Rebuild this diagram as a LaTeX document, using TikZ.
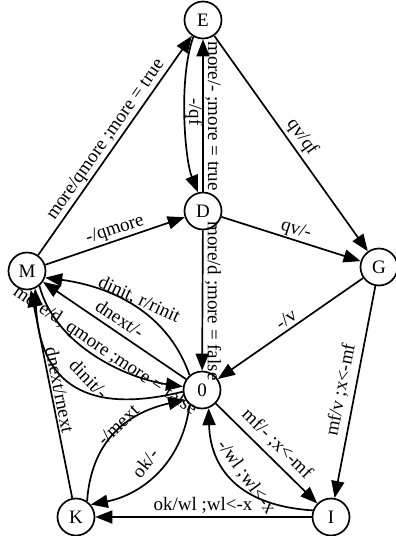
\documentclass[tikz,border=0pt]{standalone}
\usepackage{fontspec}
\setmainfont{Liberation Serif}
\usetikzlibrary{arrows.meta}
\begin{document}
\begin{tikzpicture}[x=1pt,y=-1pt,
  state/.style={circle,draw,line width=1.7pt,minimum size=37pt,inner sep=0pt,font=\fontsize{19}{22}\selectfont},
  edge/.style={line width=1.7pt,-{Triangle[length=17pt,width=13pt]}},
  lbl/.style={inner sep=0pt,font=\fontsize{19}{22}\selectfont}]
\useasboundingbox (0,0) rectangle (396,536);
% states
\node[state] (E) at (203,20) {E};
\node[state] (D) at (203,211) {D};
\node[state] (G) at (379,267) {G};
\node[state] (M) at (27,271) {M};
\node[state] (Z) at (202,390) {0};
\node[state] (K) at (76,517) {K};
\node[state] (I) at (331,517) {I};
% edges
\draw[edge] (M) -- (E);
\draw[edge] (M) -- (D);
\draw[edge] (E.240) .. controls (178,80) and (185,160) .. (D.105);
\draw[edge] (D) -- (E);
\draw[edge] (E) -- (G);
\draw[edge] (D) -- (G);
\draw[edge] (D) -- (Z);
\draw[edge] (G) -- (Z);
\draw[edge] (G) -- (I);
\draw[edge] (Z.130) .. controls (165,305) and (100,285) .. (M.-20);
\draw[edge] (Z) -- (M);
\draw[edge] (M.-50) .. controls (55,345) and (125,378) .. (Z.170);
\draw[edge] (Z.185) .. controls (100,412) and (40,395) .. (M.-65);
\draw[edge] (K) -- (M);
\draw[edge] (K.55) .. controls (92,430) and (140,410) .. (Z.210);
\draw[edge] (Z.230) .. controls (182,465) and (140,495) .. (K.40);
\draw[edge] (I) -- (K);
\draw[edge] (Z) -- (I);
\draw[edge] (I.160) .. controls (230,505) and (210,460) .. (Z.-70);
% labels
\node[lbl,rotate=55] (lME) at (106,140) {more/qmore ;more = true};
\node[lbl,rotate=18.8] (lMD) at (115,230) {-/qmore};
\node[lbl,rotate=-90] (lED) at (194,112) {-/qf};
\node[lbl,rotate=-90] (lDE) at (213,116) {more/- ;more = true};
\node[lbl,rotate=-54.5] (lEG) at (302,137) {qv/qf};
\node[lbl,rotate=-17.6] (lDG) at (296,230) {qv/-};
\node[lbl,rotate=-90] (lDZ) at (213,301) {more/d ;more = false};
\node[lbl,rotate=35] (lGZ) at (286,319) {-/v};
\node[lbl,rotate=79] (lGI) at (341,390) {mf/v ;x<-mf};
\node[lbl,rotate=-25] (lZM1) at (139,300) {dinit, r/rinit};
\node[lbl,rotate=-34] (lZM2) at (120,319) {dnext/-};
\node[lbl,rotate=-34] (lMZ) at (105,351) {more/d, qmore ;more = false};
\node[lbl,rotate=-46] (lZM3) at (89,379) {dinit/-};
\node[lbl,rotate=-78.7] (lKM) at (60,390) {dnext/rnext};
\node[lbl,rotate=44] (lKZ) at (118,425) {-/mext};
\node[lbl,rotate=52] (lZK) at (145,463) {ok/-};
\node[lbl] (lIK) at (203,505) {ok/wl ;wl<-x};
\node[lbl,rotate=-44.6] (lZI) at (277,444) {mf/- ;x<-mf};
\node[lbl,rotate=-54] (lIZ) at (246,477) {-/wl ;wl<-x};
\end{tikzpicture}
\end{document}
